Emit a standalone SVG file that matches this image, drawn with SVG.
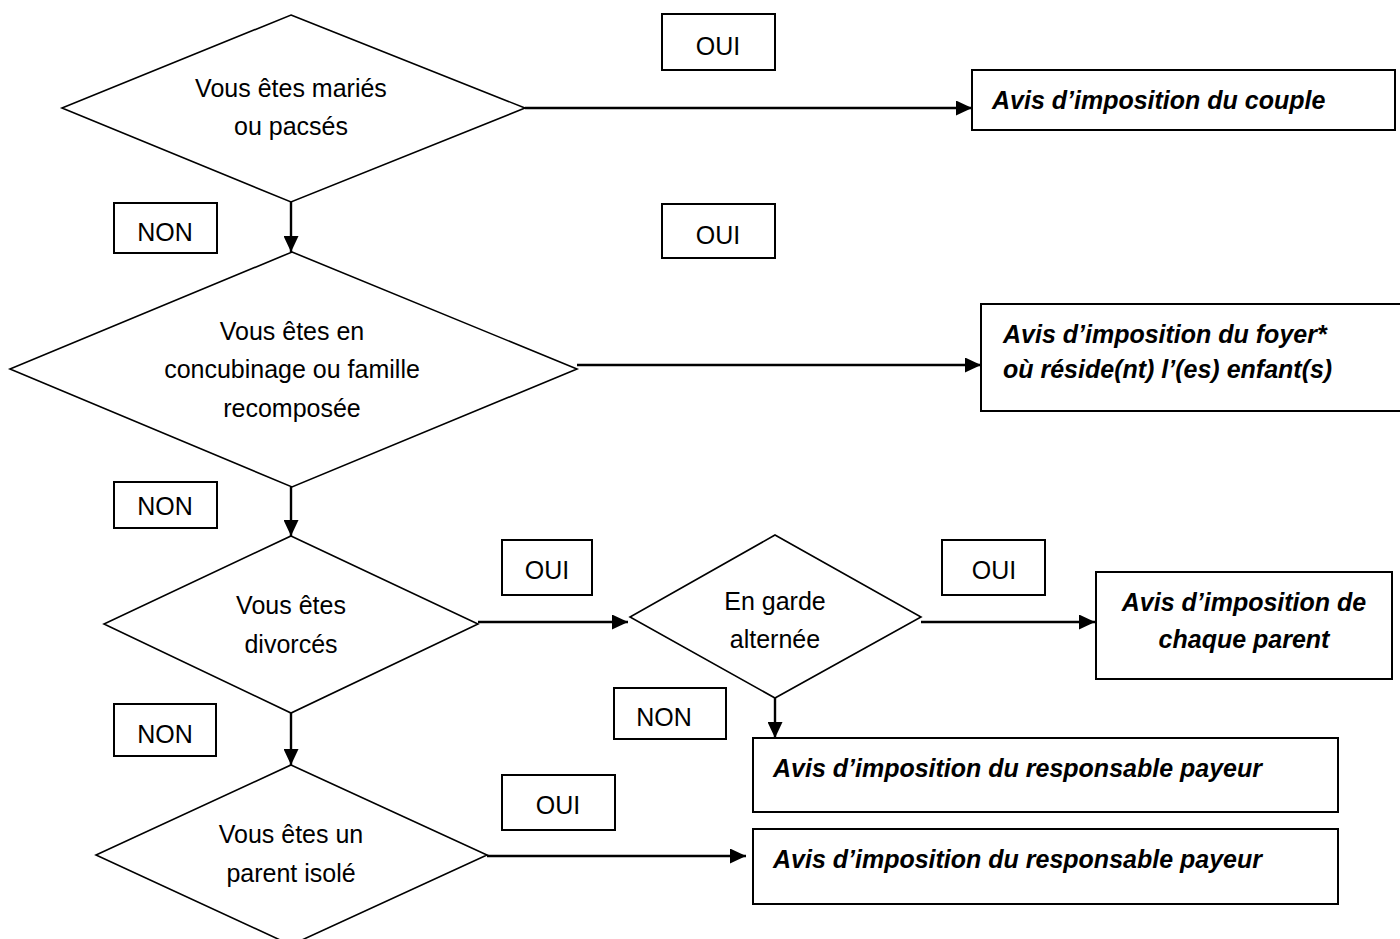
<svg xmlns="http://www.w3.org/2000/svg" width="1400" height="939" viewBox="0 0 1400 939">
<defs>
<marker id="arr" markerUnits="userSpaceOnUse" markerWidth="16" markerHeight="15" refX="16" refY="7.5" orient="auto">
<path d="M0,0 L16,7.5 L0,15 z" fill="#000"/>
</marker>
<style>
.dia{fill:#fff;stroke:#000;stroke-width:1.6}
.box{fill:#fff;stroke:#000;stroke-width:2}
.t{font-family:"Liberation Sans",Arial,sans-serif;font-size:25px;fill:#000;text-anchor:middle}
.r{font-family:"Liberation Sans",Arial,sans-serif;font-size:25px;font-weight:bold;font-style:italic;fill:#000}
.c{stroke:#000;stroke-width:2.4;fill:none;marker-end:url(#arr)}
</style>
</defs>
<rect width="1400" height="939" fill="#fff"/>
<g id="connectors">
<line class="c" x1="525" y1="108" x2="972" y2="108"/>
<line class="c" x1="291" y1="202" x2="291" y2="252"/>
<line class="c" x1="577" y1="365" x2="981" y2="365"/>
<line class="c" x1="291" y1="487" x2="291" y2="536"/>
<line class="c" x1="478" y1="622" x2="628" y2="622"/>
<line class="c" x1="921" y1="622" x2="1095" y2="622"/>
<line class="c" x1="775" y1="698" x2="775" y2="738"/>
<line class="c" x1="291" y1="713" x2="291" y2="765"/>
<line class="c" x1="487" y1="856" x2="746" y2="856"/>
</g>
<g id="q1">
<polygon class="dia" points="291,15 525,108 291,202 62,108"/>
<text class="t" x="291" y="97">Vous êtes mariés</text>
<text class="t" x="291" y="135">ou pacsés</text>
</g>
<g id="oui1"><rect class="box" x="662" y="14" width="113" height="56"/><text class="t" x="718" y="55">OUI</text></g>
<g id="r1"><rect class="box" x="972" y="70" width="423" height="60"/><text class="r" x="992" y="109">Avis d’imposition du couple</text></g>
<g id="non1"><rect class="box" x="114" y="203" width="103" height="50"/><text class="t" x="165" y="241">NON</text></g>
<g id="oui2"><rect class="box" x="662" y="204" width="113" height="54"/><text class="t" x="718" y="244">OUI</text></g>
<g id="q2">
<polygon class="dia" points="292,252 577,369 292,487 10,369"/>
<text class="t" x="292" y="340">Vous êtes en</text>
<text class="t" x="292" y="378">concubinage ou famille</text>
<text class="t" x="292" y="417">recomposée</text>
</g>
<g id="r2"><rect class="box" x="981" y="304" width="425" height="107"/>
<text class="r" x="1003" y="343">Avis d’imposition du foyer*</text>
<text class="r" x="1003" y="378">où réside(nt) l’(es) enfant(s)</text></g>
<g id="non2"><rect class="box" x="114" y="482" width="103" height="46"/><text class="t" x="165" y="515">NON</text></g>
<g id="q3">
<polygon class="dia" points="291,536 478,624 291,713 104,624"/>
<text class="t" x="291" y="614">Vous êtes</text>
<text class="t" x="291" y="653">divorcés</text>
</g>
<g id="oui3"><rect class="box" x="502" y="540" width="90" height="55"/><text class="t" x="547" y="579">OUI</text></g>
<g id="q4">
<polygon class="dia" points="775,535 921,617 775,698 630,617"/>
<text class="t" x="775" y="610">En garde</text>
<text class="t" x="775" y="648">alternée</text>
</g>
<g id="oui4"><rect class="box" x="942" y="540" width="103" height="55"/><text class="t" x="994" y="579">OUI</text></g>
<g id="r3"><rect class="box" x="1096" y="572" width="296" height="107"/>
<text class="r" x="1244" y="611" text-anchor="middle">Avis d’imposition de</text>
<text class="r" x="1244" y="648" text-anchor="middle">chaque parent</text></g>
<g id="non3"><rect class="box" x="614" y="688" width="112" height="51"/><text class="t" x="664" y="726">NON</text></g>
<g id="r4"><rect class="box" x="753" y="738" width="585" height="74"/><text class="r" x="773" y="777">Avis d’imposition du responsable payeur</text></g>
<g id="non4"><rect class="box" x="114" y="704" width="102" height="52"/><text class="t" x="165" y="743">NON</text></g>
<g id="q5">
<polygon class="dia" points="291,765 487,855 291,945 96,855"/>
<text class="t" x="291" y="843">Vous êtes un</text>
<text class="t" x="291" y="882">parent isolé</text>
</g>
<g id="oui5"><rect class="box" x="502" y="775" width="113" height="55"/><text class="t" x="558" y="814">OUI</text></g>
<g id="r5"><rect class="box" x="753" y="829" width="585" height="75"/><text class="r" x="773" y="868">Avis d’imposition du responsable payeur</text></g>
</svg>
